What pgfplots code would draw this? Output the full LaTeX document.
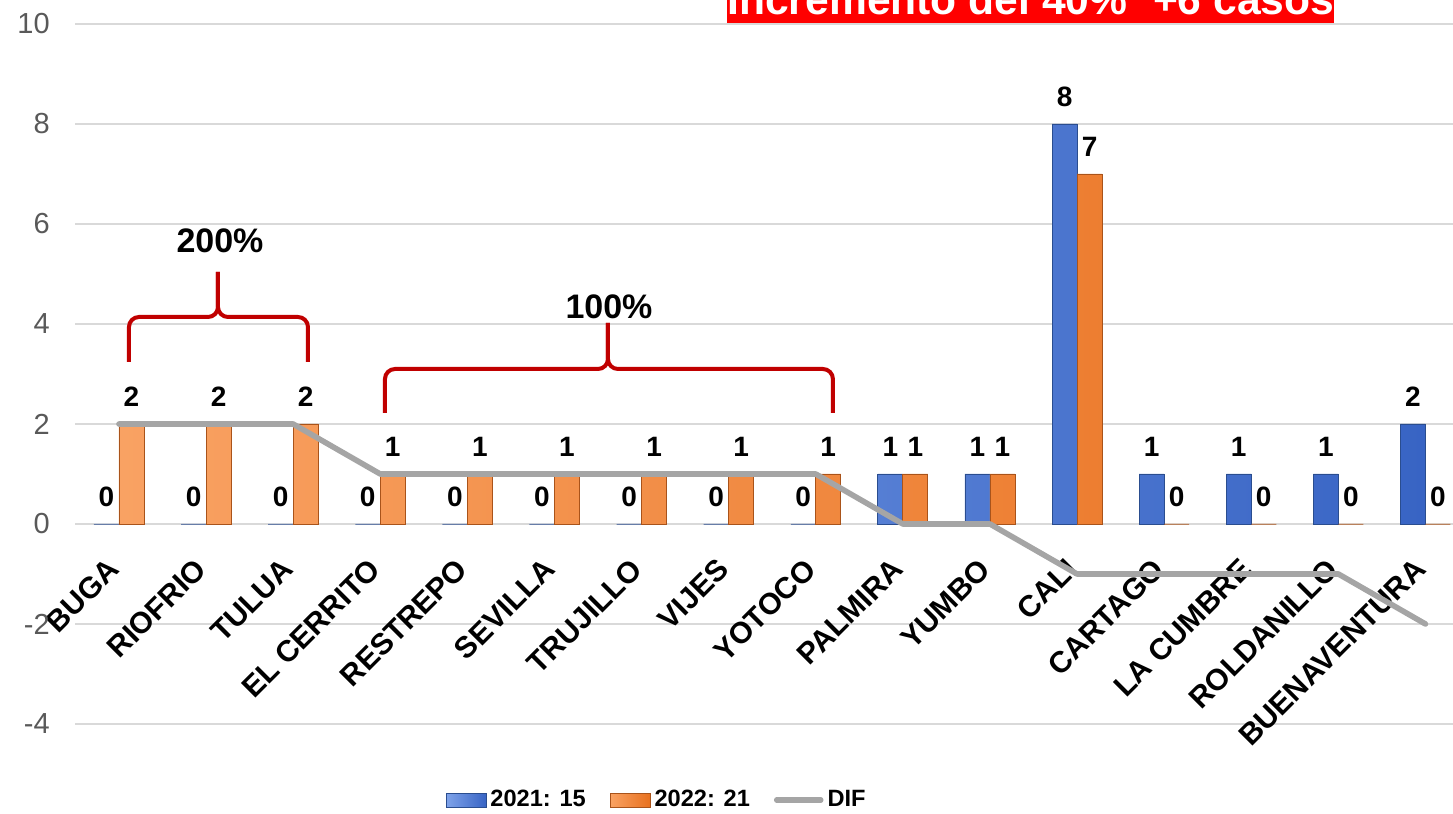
\documentclass[border=0pt]{standalone}
\usepackage{fontspec}
\setmainfont{Liberation Sans}
\usepackage{pgfplots}
\usepackage{pgfplotstable}
\pgfplotsset{compat=1.18}

\definecolor{bluelight}{HTML}{7FA3EA}
\definecolor{bluebar}{HTML}{3864C4}
\definecolor{blueedge}{HTML}{2A4D8F}
\definecolor{orangelight}{HTML}{F9A263}
\definecolor{orangebar}{HTML}{E8711F}
\definecolor{orangeedge}{HTML}{A9531A}
\definecolor{difgray}{HTML}{A5A5A5}
\definecolor{gridgray}{HTML}{D9D9D9}
\definecolor{ticklab}{HTML}{595959}
\definecolor{bracered}{HTML}{C00000}
\definecolor{titlered}{HTML}{FF0000}

\pgfplotsset{
    rectlegend/.style={legend image code/.code={\draw[##1] (0pt,-3.5pt) rectangle (20pt,3.5pt);}},
    linelegend/.style={legend image code/.code={\draw[##1] (0pt,0pt) -- (22pt,0pt);}},
}

% idx: municipio, y2021 / y2022: casos, dif = 2022 - 2021
\pgfplotstableread{
idx y2021 y2022 dif
0   0     2     2
1   0     2     2
2   0     2     2
3   0     1     1
4   0     1     1
5   0     1     1
6   0     1     1
7   0     1     1
8   0     1     1
9   1     1     0
10  1     1     0
11  8     7     -1
12  1     0     -1
13  1     0     -1
14  1     0     -1
15  2     0     -2
}\datos

\begin{document}
\begin{tikzpicture}
    \begin{axis}[
            scale only axis,
            width=688.8pt,
            height=350pt,
            clip=false,
            xmin=-0.5, xmax=15.316,
            ymin=-4, ymax=10,
            ytick={-4,-2,...,10},
            xtick={0,...,15},
            xticklabels={BUGA, RIOFRIO, TULUA, EL CERRITO, RESTREPO, SEVILLA,
                    TRUJILLO, VIJES, YOTOCO, PALMIRA, YUMBO, CALI, CARTAGO,
                    LA CUMBRE, ROLDANILLO, BUENAVENTURA},
            ymajorgrids,
            major grid style={gridgray, line width=1pt},
            axis line style={draw=none},
            major tick length=0pt,
            /pgf/number format/assume math mode=true,
            yticklabel style={font=\fontsize{14.5}{16}\selectfont, text=ticklab, xshift=-9.3pt},
            xticklabel style={font=\bfseries\fontsize{15}{17}\selectfont, inner sep=0pt,
                    xshift=-2.5pt, yshift=80pt, rotate=45, anchor=east},
            legend style={
                    at={(0.4226,-0.1086)}, anchor=center,
                    draw=none, fill=none,
                    font=\bfseries\fontsize{11.8}{14}\selectfont,
                    /tikz/every even column/.append style={column sep=10pt},
                },
            legend columns=-1,
            every node near coord/.append style={
                    font=\bfseries\fontsize{14}{16}\selectfont,
                    text=black, inner sep=0pt, anchor=south, yshift=8.5pt,
                },
        ]
        \addplot[ybar, bar width=12.5pt, bar shift=-6.25pt,
            draw=blueedge, line width=0.4pt,
            left color=bluelight, right color=bluebar,
            nodes near coords, rectlegend,
            every node near coord/.append style={xshift=-6.25pt},
        ] table[x=idx, y=y2021] {\datos};
        \addlegendentry{2021: 15}

        \addplot[ybar, bar width=12.5pt, bar shift=6.25pt,
            draw=orangeedge, line width=0.4pt,
            left color=orangelight, right color=orangebar,
            nodes near coords, rectlegend,
            every node near coord/.append style={xshift=6.25pt},
        ] table[x=idx, y=y2022] {\datos};
        \addlegendentry{2022: 21}

        \addplot[sharp plot, no markers, difgray, line width=2.8pt,
            line join=round, line cap=round, linelegend,
        ] table[x=idx, y=dif] {\datos};
        \addlegendentry{DIF}

        % llaves de anotacion
        \draw[bracered, line width=2pt, rounded corners=5pt]
            (axis cs:0.115,3.24) -- (axis cs:0.115,4.14) -- (axis cs:1.137,4.14) -- (axis cs:1.137,5.04);
        \draw[bracered, line width=2pt, rounded corners=5pt]
            (axis cs:2.17,3.24) -- (axis cs:2.17,4.14) -- (axis cs:1.137,4.14) -- (axis cs:1.137,5.04);
        \node[anchor=base, font=\bfseries\fontsize{17}{20}\selectfont] at (axis cs:1.16,5.42) {200\%};

        \draw[bracered, line width=2pt, rounded corners=5pt]
            (axis cs:3.054,2.22) -- (axis cs:3.054,3.10) -- (axis cs:5.614,3.10) -- (axis cs:5.614,4.02);
        \draw[bracered, line width=2pt, rounded corners=5pt]
            (axis cs:8.197,2.22) -- (axis cs:8.197,3.10) -- (axis cs:5.614,3.10) -- (axis cs:5.614,4.02);
        \node[anchor=base, font=\bfseries\fontsize{17}{20}\selectfont] at (axis cs:5.626,4.10) {100\%};

        % titulo (recortado arriba como en el original)
        \node[fill=titlered, text=white, font=\bfseries\fontsize{21.3}{25}\selectfont,
            inner xsep=0pt, inner ysep=4pt, minimum width=303.5pt, anchor=south west]
            at (axis cs:6.98,10.02) {Incremento del 40\%\hspace{0.6em}+6 casos};

        \coordinate (bbsw) at (rel axis cs:0,0);
        \coordinate (bbne) at (rel axis cs:1,1);
    \end{axis}
    \pgfresetboundingbox
    \path[use as bounding box] ([xshift=-37.7pt,yshift=-45pt]bbsw) rectangle ([yshift=12pt]bbne);
\end{tikzpicture}
\end{document}
